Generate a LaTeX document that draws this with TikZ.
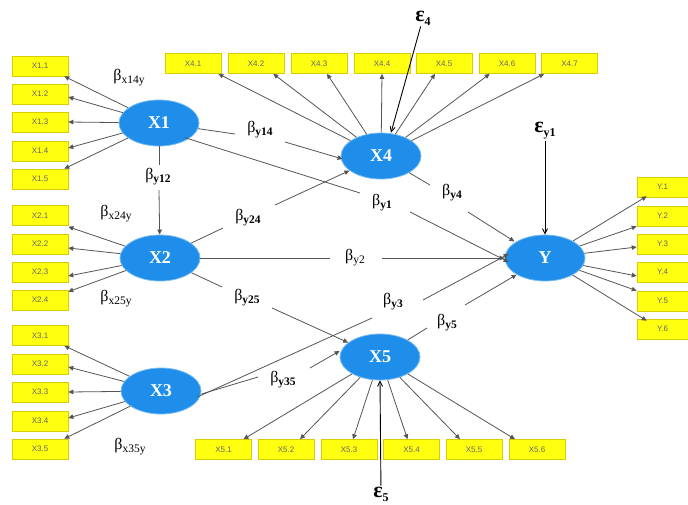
\documentclass[tikz,border=0pt]{standalone}
\usepackage{fontspec}
\setmainfont{Liberation Serif}
\newfontfamily\indfont{Liberation Sans}
\usetikzlibrary{shapes.geometric,arrows.meta}
\definecolor{latblue}{HTML}{1E8EEA}
\definecolor{indyel}{HTML}{FFFF10}
\definecolor{indedge}{HTML}{D9CC00}
\definecolor{lngray}{HTML}{555555}
\tikzset{
  ind/.style={draw=indedge, fill=indyel, line width=0.6pt, minimum width=56pt, minimum height=20pt, inner sep=0pt,
    font=\indfont\fontsize{8}{9}\selectfont, text=black!60},
  indy/.style={ind, minimum width=51pt},
  lat/.style={ellipse, fill=latblue, draw=latblue!60!white, line width=0.8pt, minimum width=80pt, minimum height=46pt,
    inner sep=0pt, font=\fontsize{18}{18}\selectfont\bfseries, text=white},
  ld/.style={draw=lngray, line width=0.8pt, -{Triangle[length=5pt,width=4.5pt]}},
  pl/.style={draw=lngray, line width=0.8pt},
  ed/.style={draw=black, line width=0.9pt, -{Straight Barb[length=5pt,width=5pt]}},
  bt/.style={font=\fontsize{16}{16}\selectfont, inner sep=1pt},
  ep/.style={font=\fontsize{22}{22}\selectfont\bfseries, inner sep=1pt},
}
\newcommand{\bsub}[1]{β\raisebox{-3pt}{\fontsize{11.5}{11.5}\selectfont #1}}
\newcommand{\bbsub}[1]{β\raisebox{-3pt}{\fontsize{11.5}{11.5}\selectfont\bfseries #1}}
\newcommand{\esub}[1]{ε\raisebox{-4pt}{\fontsize{12}{12}\selectfont\bfseries #1}}
\begin{document}
\begin{tikzpicture}[x=1pt,y=-1pt]
\useasboundingbox[fill=white] (0,0) rectangle (688,504);

% latent variables
\node[lat] (X1) at (159,123) {X1};
\node[lat] (X2) at (160,258) {X2};
\node[lat] (X3) at (161,391) {X3};
\node[lat] (X4) at (381,156) {X4};
\node[lat] (X5) at (380,357) {X5};
\node[lat] (Y) at (545,258) {Y};

% X1 indicators
\foreach \i/\y in {1/66,2/94,3/122,4/151,5/179}
  \node[ind] (x1\i) at (40,\y) {X1.\i};
% X2 indicators
\foreach \i/\y in {1/215.5,2/244,3/272,4/300}
  \node[ind] (x2\i) at (40,\y) {X2.\i};
% X3 indicators
\foreach \i/\y in {1/335.5,2/364,3/392,4/421,5/449}
  \node[ind] (x3\i) at (40,\y) {X3.\i};
% X4 indicators
\foreach \i/\x in {1/193,2/256,3/319,4/382,5/444,6/507,7/569.5}
  \node[ind] (x4\i) at (\x,63.5) {X4.\i};
% X5 indicators
\foreach \i/\x in {1/223.5,2/286,3/349,4/411.5,5/474,6/537}
  \node[ind] (x5\i) at (\x,449.5) {X5.\i};
% Y indicators
\foreach \i/\y in {1/187,2/216,3/244,4/272,5/301,6/329}
  \node[indy] (y\i) at (662.5,\y) {Y.\i};

% loadings X1
\draw[ld] (X1) -- ([xshift=-4pt]x11.south east);
\draw[ld] (X1) -- ([yshift=-3pt]x12.east);
\draw[ld] (X1) -- (x13.east);
\draw[ld] (X1) -- ([yshift=3pt]x14.east);
\draw[ld] (X1) -- ([xshift=-4pt]x15.north east);
% loadings X2
\draw[ld] (X2) -- ([yshift=-1pt]x21.south east);
\draw[ld] (X2) -- ([yshift=-4pt]x22.east);
\draw[ld] (X2) -- ([yshift=-4pt]x23.east);
\draw[ld] (X2) -- ([yshift=-2pt]x24.north east);
% loadings X3
\draw[ld] (X3) -- ([xshift=-4pt]x31.south east);
\draw[ld] (X3) -- ([yshift=-3pt]x32.east);
\draw[ld] (X3) -- (x33.east);
\draw[ld] (X3) -- ([yshift=3pt]x34.east);
\draw[ld] (X3) -- ([xshift=-4pt]x35.north east);
% loadings X4
\draw[ld] (X4) -- ([xshift=-3pt]x41.south east);
\draw[ld] (X4) -- ([xshift=-11pt]x42.south east);
\draw[ld] (X4) -- ([xshift=8pt]x43.south);
\draw[ld] (X4) -- (x44.south);
\draw[ld] (X4) -- ([xshift=-9pt]x45.south);
\draw[ld] (X4) -- ([xshift=11pt]x46.south west);
\draw[ld] (X4) -- ([xshift=3pt]x47.south west);
% loadings X5
\draw[ld] (X5) -- ([xshift=20pt]x51.north);
\draw[ld] (X5) -- ([xshift=14pt]x52.north);
\draw[ld] (X5) -- ([xshift=4pt]x53.north);
\draw[ld] (X5) -- ([xshift=-4pt]x54.north);
\draw[ld] (X5) -- ([xshift=-14pt]x55.north);
\draw[ld] (X5) -- ([xshift=-22pt]x56.north);
% loadings Y
\draw[ld] (Y) -- ([xshift=10pt,yshift=1pt]y1.south west);
\draw[ld] (Y) -- ([yshift=0pt]y2.south west);
\draw[ld] (Y) -- ([yshift=-3pt]y3.west);
\draw[ld] (Y) -- ([yshift=-4pt]y4.west);
\draw[ld] (Y) -- ([yshift=0pt]y5.north west);
\draw[ld] (Y) -- ([xshift=10pt,yshift=-2pt]y6.north west);

% loading labels
\node[bt] (bx14y) at (129,78) {\bsub{x14y}};
\node[bt] (bx24y) at (116,214) {\bsub{x24y}};
\node[bt] (bx25y) at (116,299) {\bsub{x25y}};
\node[bt] (bx35y) at (130,447) {\bsub{x35y}};

% structural paths (broken by labels)
\node[bt] (by12) at (158,177) {\bbsub{y12}};
\coordinate (g12a) at (159,165);
\coordinate (g12b) at (159,190);
\draw[pl] (X1) -- (g12a);
\draw[ld] (g12b) -- (X2);

\node[bt] (by14) at (260,130) {\bbsub{y14}};
\coordinate (g14a) at (235,134);
\coordinate (g14b) at (285,142);
\draw[pl] (X1) -- (g14a);
\draw[ld] (g14b) -- ([xshift=2pt,yshift=-3pt]X4.west);

\node[bt] (by1) at (382,203) {\bbsub{y1}};
\coordinate (g1a) at (360,193);
\coordinate (g1b) at (410,212);
\draw[pl] ([xshift=-3pt,yshift=2pt]X1.south east) -- (g1a);
\draw[ld] (g1b) -- ([xshift=4pt,yshift=-4pt]Y.west);

\node[bt] (by4) at (452,193) {\bbsub{y4}};
\coordinate (g4a) at (430,185);
\coordinate (g4b) at (468,212);
\draw[pl] (X4) -- (g4a);
\draw[ld] (g4b) -- ([xshift=-2pt]Y.north west);

\node[bt] (by24) at (248,218) {\bbsub{y24}};
\coordinate (g24a) at (223,228);
\coordinate (g24b) at (275,205);
\draw[pl] (X2) -- (g24a);
\draw[ld] (g24b) -- (X4);

\node[bt] (by2) at (355,258) {\bsub{y2}};
\coordinate (g2a) at (330,258);
\coordinate (g2b) at (382,258);
\draw[pl] (X2) -- (g2a);
\draw[ld] (g2b) -- (Y);

\node[bt] (by25) at (247,298) {\bbsub{y25}};
\coordinate (g25a) at (222,287);
\coordinate (g25b) at (272,308);
\draw[pl] (X2) -- (g25a);
\draw[ld] (g25b) -- (X5);

\node[bt] (by3) at (393,302) {\bbsub{y3}};
\coordinate (g3a) at (372,318);
\coordinate (g3b) at (423,300);
\draw[pl] ([xshift=-4pt,yshift=-6pt]X3.east) -- (g3a);
\draw[ld] (g3b) -- ([xshift=4pt,yshift=4pt]Y.west);

\node[bt] (by5) at (447,323) {\bbsub{y5}};
\coordinate (g5a) at (427,328);
\coordinate (g5b) at (465,305);
\draw[pl] (X5) -- (g5a);
\draw[ld] (g5b) -- (Y);

\node[bt] (by35) at (283,380) {\bbsub{y35}};
\coordinate (g35a) at (258,377);
\coordinate (g35b) at (310,368);
\draw[pl] ([yshift=-3pt]X3.east) -- (g35a);
\draw[ld] (g35b) -- ([yshift=6pt]X5.west);

% error terms
\node[ep] (e4) at (423,18) {\esub{4}};
\draw[ed] (e4) -- ([xshift=10pt]X4.north);
\node[ep] (ey1) at (545,131) {\esub{y1}};
\draw[ed] (ey1) -- (ey1 |- Y.north);
\node[ep] (e5) at (381,494) {\esub{5}};
\draw[ed] (e5) -- (X5.south);
\end{tikzpicture}
\end{document}
